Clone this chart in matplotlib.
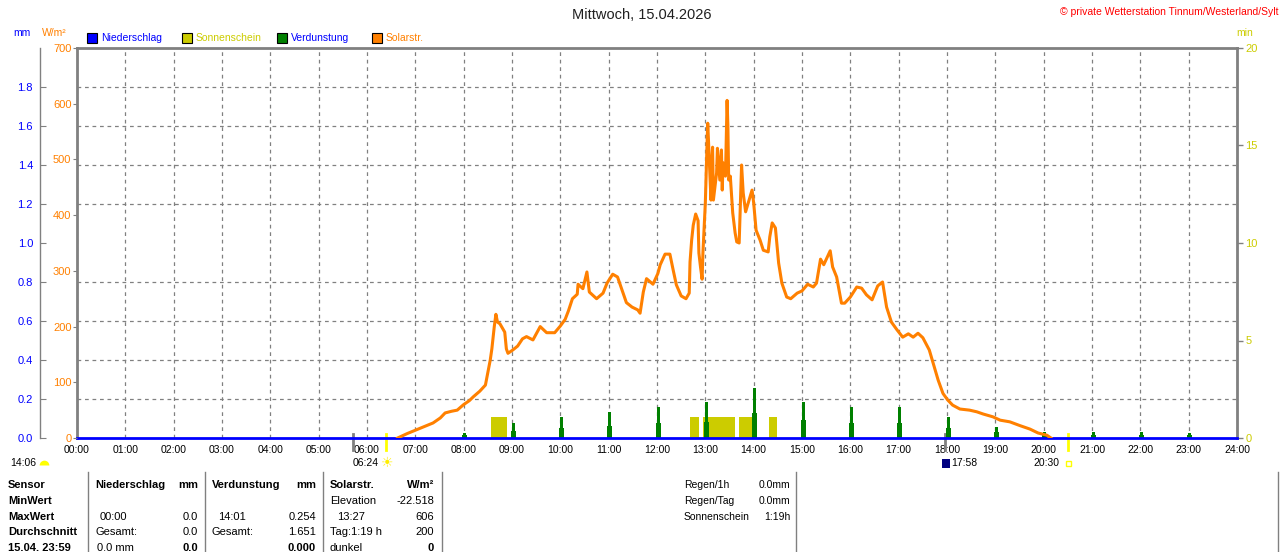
import numpy as np
import matplotlib
matplotlib.use("Agg")
import matplotlib.pyplot as plt
from matplotlib.patches import Rectangle
from matplotlib.ticker import MultipleLocator

plt.rcParams['font.family'] = ['Liberation Sans', 'DejaVu Sans']

# ---- data ----
solar_times = ["06:38", "06:50", "07:00", "07:10", "07:22", "07:31", "07:37", "07:45", "07:52", "08:00",
               "08:07", "08:12", "08:20", "08:27", "08:30", "08:33", "08:35", "08:38", "08:40", "08:42",
               "08:45", "08:49", "08:51", "08:53", "08:55", "09:01", "09:07", "09:13", "09:18", "09:26",
               "09:35", "09:43", "09:53", "10:00", "10:06", "10:10", "10:15", "10:21", "10:22", "10:28",
               "10:33", "10:36", "10:45", "10:53", "10:58", "11:05", "11:11", "11:16", "11:22", "11:29",
               "11:36", "11:39", "11:43", "11:47", "11:55", "12:01", "12:04", "12:10", "12:16", "12:20",
               "12:24", "12:30", "12:36", "12:40", "12:41", "12:43", "12:45", "12:48", "12:51", "12:52",
               "12:54", "12:56", "12:57", "13:00", "13:02", "13:03", "13:06", "13:07", "13:08", "13:09",
               "13:10", "13:14", "13:15", "13:18", "13:20", "13:21", "13:22", "13:25", "13:27", "13:28",
               "13:29", "13:31", "13:34", "13:37", "13:39", "13:42", "13:45", "13:47", "13:50", "13:55",
               "13:58", "14:00", "14:03", "14:08", "14:12", "14:18", "14:20", "14:23", "14:27", "14:31",
               "14:35", "14:41", "14:46", "14:54", "15:00", "15:07", "15:14", "15:18", "15:23", "15:27",
               "15:35", "15:38", "15:43", "15:49", "15:53", "16:00", "16:08", "16:14", "16:20", "16:27",
               "16:31", "16:34", "16:40", "16:45", "16:51", "16:58", "17:05", "17:12", "17:18", "17:24",
               "17:30", "17:38", "17:49", "17:55", "18:01", "18:07", "18:16", "18:28", "18:37", "18:45",
               "18:57", "19:06", "19:18", "19:31", "19:43", "19:53", "20:04", "20:09"]
solar_vals = [0, 8, 14, 20, 27, 36, 45, 48, 50, 60,
              67, 74, 84, 95, 117, 140, 160, 200, 222, 208,
              205, 195, 190, 160, 152, 158, 165, 178, 182, 176,
              200, 189, 189, 201, 213, 228, 250, 258, 276, 268,
              298, 262, 250, 260, 278, 294, 289, 268, 243, 235,
              230, 224, 262, 286, 276, 295, 311, 330, 330, 302,
              275, 255, 250, 260, 316, 355, 382, 402, 390, 332,
              307, 285, 332, 422, 522, 565, 463, 427, 494, 522,
              427, 476, 520, 463, 517, 445, 494, 470, 606, 560,
              463, 470, 404, 368, 352, 350, 490, 440, 406, 430,
              445, 422, 373, 355, 337, 334, 361, 386, 377, 314,
              278, 253, 250, 260, 264, 276, 271, 278, 321, 311,
              336, 307, 289, 242, 242, 253, 271, 269, 257, 248,
              262, 273, 280, 235, 208, 194, 181, 187, 181, 188,
              180, 158, 104, 80, 68, 59, 52, 50, 47, 43,
              38, 32, 29, 22, 16, 9, 5, 0]

# sunshine (min), intervals
sun_start = ["08:34", "12:41", "12:57", "13:42", "14:19"]
sun_end = ["08:54", "12:52", "13:37", "13:59", "14:29"]
sun_vals = [1.08, 1.08, 1.08, 1.08, 1.08]

# evaporation (mm), hourly spikes: peak and shoulder
evap_hours = [8, 9, 10, 11, 12, 13, 14, 15, 16, 17, 18, 19, 20, 21, 22, 23]
evap_peak = [0.027, 0.078, 0.106, 0.132, 0.160, 0.186, 0.254, 0.183, 0.160, 0.157, 0.106, 0.055, 0.029, 0.029, 0.029, 0.027]
evap_shoulder = [0.015, 0.037, 0.051, 0.062, 0.078, 0.084, 0.130, 0.092, 0.078, 0.078, 0.051, 0.030, 0.015, 0.015, 0.015, 0.015]

# precipitation (mm)
rain_hours = [0, 24]
rain_vals = [0.0, 0.0]

hour_labels = ["%02d:00" % h for h in range(25)]

# events below the axis
grey_marks = ["05:43", "17:58"]
yellow_marks = ["06:24", "20:30"]

BLUE = "#0000FF"
YELLOW = "#CCCC00"
GREEN = "#008000"
ORANGE = "#FF8000"
GREY = "#808080"


def hm(s):
    h, m = s.split(":")
    return int(h) + int(m) / 60.0


def fx(px):
    return px / 1280.0


def fy(py):
    return 1 - py / 552.0


fig = plt.figure(figsize=(12.8, 5.52), dpi=100)
rect = [fx(77), fy(438), 1160 / 1280.0, 390 / 552.0]

# base axis: sunshine minutes (right)
ax = fig.add_axes(rect)
ax_mm = ax.twinx()
ax_sol = ax.twinx()

ax.set_xlim(0, 24)
ax.set_ylim(0, 20)
ax.set_xticks(range(25))
ax.set_xticklabels(hour_labels, fontsize=7.5)
ax.tick_params(axis='x', length=0, pad=5)
ax.yaxis.tick_right()
ax.yaxis.set_label_position('right')
ax.set_yticks([0, 5, 10, 15, 20])
ax.yaxis.set_minor_locator(MultipleLocator(2))
ax.tick_params(axis='y', which='major', colors=GREY, labelcolor=YELLOW, length=4, width=1, pad=2, labelsize=8)
ax.tick_params(axis='y', which='minor', length=0)
ax.grid(True, axis='y', which='minor', color=GREY, linestyle=(0, (3, 3)), linewidth=0.9)
ax.grid(True, axis='x', which='major', color=GREY, linestyle=(0, (3, 3)), linewidth=0.9)
for sp in ['top', 'left', 'right']:
    ax.spines[sp].set_color(GREY)
    ax.spines[sp].set_linewidth(2)
ax.spines['bottom'].set_visible(False)
ax.set_axisbelow(True)

starts = np.array([hm(s) for s in sun_start])
ends = np.array([hm(s) for s in sun_end])
ax.bar(starts, sun_vals, width=ends - starts, align='edge', color=YELLOW, linewidth=0, zorder=2)

# markers under the axis
trans = ax.get_xaxis_transform()
for t in grey_marks:
    ax.plot([hm(t), hm(t)], [-0.03, 0.01], color=GREY, lw=2, transform=trans, clip_on=False, zorder=5)
for t in yellow_marks:
    ax.plot([hm(t), hm(t)], [-0.03, 0.01], color="#FFFF00", lw=2, transform=trans, clip_on=False, zorder=5)

# mm axis (left, offset)
ax_mm.set_ylim(0, 2)
ax_mm.yaxis.set_ticks_position('left')
ax_mm.yaxis.set_label_position('left')
ax_mm.spines['left'].set_position(('axes', (40 - 77) / 1160.0))
for sp in ['top', 'right', 'bottom']:
    ax_mm.spines[sp].set_visible(False)
ax_mm.spines['left'].set_visible(True)
ax_mm.spines['left'].set_color(GREY)
ax_mm.spines['left'].set_linewidth(1)
ax_mm.set_yticks(np.arange(0, 1.81, 0.2))
ax_mm.set_yticklabels(["%.1f" % v for v in np.arange(0, 1.81, 0.2)])
ax_mm.tick_params(axis='y', direction='in', colors=GREY, labelcolor=BLUE, length=4, pad=5, labelsize=8)

eh = np.array(evap_hours, dtype=float)
ax_mm.bar(eh - 1.5 / 60, evap_shoulder, width=6 / 60, align='edge', color=GREEN, linewidth=0, zorder=3)
ax_mm.bar(eh - 0.5 / 60, evap_peak, width=4 / 60, align='edge', color=GREEN, linewidth=0, zorder=3)
ax_mm.plot(rain_hours, rain_vals, color=BLUE, lw=2, zorder=6, clip_on=False)

# solar axis (left spine of plot)
ax_sol.set_ylim(0, 700)
ax_sol.yaxis.set_ticks_position('left')
ax_sol.yaxis.set_label_position('left')
for sp in ['top', 'right', 'bottom', 'left']:
    ax_sol.spines[sp].set_visible(False)
ax_sol.set_yticks(range(0, 701, 100))
ax_sol.tick_params(axis='y', colors=GREY, labelcolor=ORANGE, length=3, pad=1, labelsize=8)
ax_sol.plot([hm(t) for t in solar_times], solar_vals, color=ORANGE, lw=2.2, zorder=4,
            solid_joinstyle='round')

# header texts
fig.text(fx(642), fy(15), "Mittwoch, 15.04.2026", ha='center', va='center', fontsize=10.5, color="#202020")
fig.text(fx(1278), fy(12), "© private Wetterstation Tinnum/Westerland/Sylt", ha='right', va='center',
         fontsize=7.5, color="#FF0000")
fig.text(fx(22), fy(33), "mm", ha='center', va='center', fontsize=7.5, color=BLUE)
fig.text(fx(54), fy(33), "W/m²", ha='center', va='center', fontsize=7.5, color=ORANGE)
fig.text(fx(1245), fy(33), "min", ha='center', va='center', fontsize=7.5, color=YELLOW)

legend = [("Niederschlag", BLUE, BLUE, 87), ("Sonnenschein", YELLOW, YELLOW, 182),
          ("Verdunstung", GREEN, BLUE, 277), ("Solarstr.", ORANGE, ORANGE, 372)]
for name, fc, tc, px in legend:
    fig.patches.append(Rectangle((fx(px), fy(43)), 10 / 1280.0, 10 / 552.0, facecolor=fc,
                                 edgecolor='black', linewidth=0.8, transform=fig.transFigure))
    fig.text(fx(px + 14), fy(38), name, ha='left', va='center', fontsize=7.5, color=tc)

# labels under the time axis
fig.text(fx(10), fy(463), "14:06", ha='left', va='center', fontsize=7.5)
fig.add_artist(plt.Line2D([fx(44)], [fy(465)], marker='o', markersize=7, fillstyle='top',
                          color="#FFFF00", markerfacecoloralt='none', markeredgewidth=0,
                          transform=fig.transFigure))
fig.text(fx(353), fy(463), "06:24", ha='left', va='center', fontsize=7.5)
fig.text(fx(387), fy(463), "☀", ha='center', va='center', fontsize=10, color="#FFEE00", family='DejaVu Sans')
fig.patches.append(Rectangle((fx(942), fy(468)), 8 / 1280.0, 9 / 552.0, facecolor="#000080",
                             transform=fig.transFigure))
fig.text(fx(951), fy(463), "17:58", ha='left', va='center', fontsize=7.5)
fig.text(fx(1033), fy(463), "20:30", ha='left', va='center', fontsize=7.5)
fig.patches.append(Rectangle((fx(1066), fy(466)), 5 / 1280.0, 5 / 552.0, facecolor='white',
                             edgecolor="#FFFF00", linewidth=1, transform=fig.transFigure))

# table
for px in [88, 205, 323, 442, 796, 1278]:
    fig.add_artist(plt.Line2D([fx(px), fx(px)], [fy(472), fy(552)], color=GREY, lw=1,
                              transform=fig.transFigure))

rows_y = [485, 501, 517, 532, 548]
left_col = ["Sensor", "MinWert", "MaxWert", "Durchschnitt", "15.04. 23:59"]
for y, s in zip(rows_y, left_col):
    fig.text(fx(8), fy(y), s, ha='left', va='center', fontsize=8, fontweight='bold')

cells = [
    (95, 485, "Niederschlag", 'left', True), (198, 485, "mm", 'right', True),
    (212, 485, "Verdunstung", 'left', True), (316, 485, "mm", 'right', True),
    (330, 485, "Solarstr.", 'left', True), (434, 485, "W/m²", 'right', True),
    (330, 501, "Elevation", 'left', False), (434, 501, "-22.518", 'right', False),
    (100, 517, "00:00", 'left', False), (198, 517, "0.0", 'right', False),
    (218, 517, "14:01", 'left', False), (316, 517, "0.254", 'right', False),
    (337, 517, "13:27", 'left', False), (434, 517, "606", 'right', False),
    (95, 532, "Gesamt:", 'left', False), (198, 532, "0.0", 'right', False),
    (212, 532, "Gesamt:", 'left', False), (316, 532, "1.651", 'right', False),
    (330, 532, "Tag:1:19 h", 'left', False), (434, 532, "200", 'right', False),
    (97, 548, "0.0 mm", 'left', False), (198, 548, "0.0", 'right', True),
    (316, 548, "0.000", 'right', True), (330, 548, "dunkel", 'left', False),
    (434, 548, "0", 'right', True),
]
for px, py, s, ha, bold in cells:
    fig.text(fx(px), fy(py), s, ha=ha, va='center', fontsize=8,
             fontweight='bold' if bold else 'normal')

info = [("Regen/1h", "0.0mm", 485), ("Regen/Tag", "0.0mm", 501), ("Sonnenschein", "1:19h", 517)]
for k, v, py in info:
    fig.text(fx(684), fy(py), k, ha='left', va='center', fontsize=7.5)
    fig.text(fx(790), fy(py), v, ha='right', va='center', fontsize=7.5)

fig.savefig("out.png", dpi=100)
